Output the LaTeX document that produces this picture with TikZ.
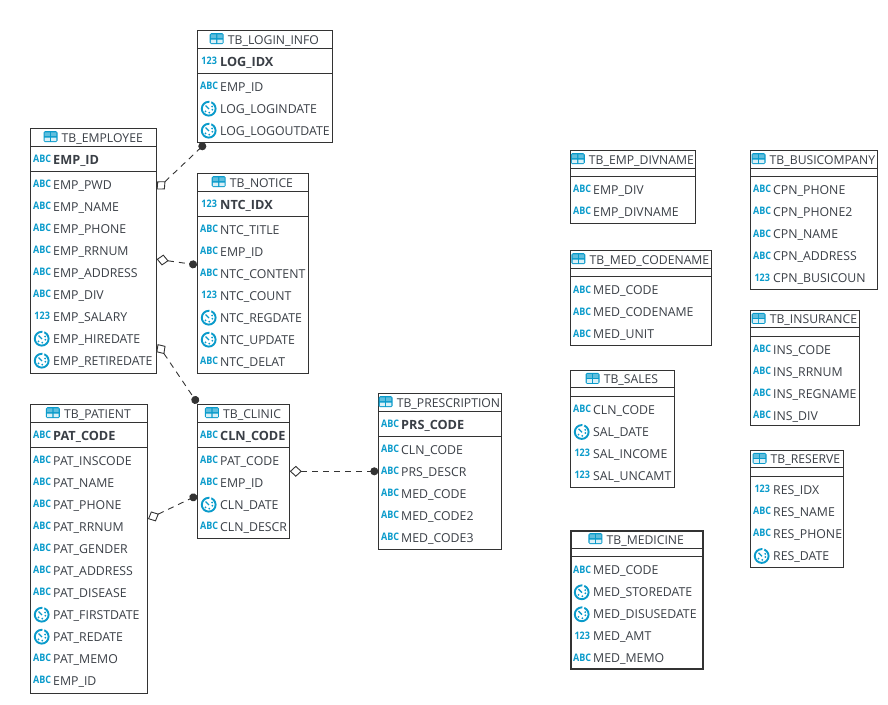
\documentclass[tikz,border=0pt]{standalone}
\usepackage{graphicx}
\usepackage{fontspec}
\setmainfont{Open Sans}
\usetikzlibrary{arrows.meta,positioning,calc}
\definecolor{iconblue}{HTML}{0A9BCB}
\definecolor{inkgrey}{HTML}{3A3F46}
\definecolor{edgegrey}{HTML}{333333}
\tikzset{
    tablebox/.style={draw=edgegrey, line width=1pt, fill=white, inner sep=0pt, outer sep=0pt, anchor=north west},
    tablerule/.style={edgegrey, line width=1pt},
    titletext/.style={text=inkgrey, inner sep=0pt, font=\fontsize{12.2}{14}\selectfont, text height=10.5pt, text depth=1.5pt},
    rowtext/.style={text=inkgrey, inner sep=0pt, anchor=west, font=\fontsize{12.3}{14}\selectfont, text height=10.5pt, text depth=1.5pt},
    keytext/.style={rowtext, font=\fontsize{12.7}{14}\selectfont\bfseries},
    typetext/.style={text=iconblue, inner sep=0pt, yshift=1pt, xshift=0.5pt, font=\fontsize{9}{10}\selectfont\bfseries},
    reflink/.style={edgegrey, line width=0.9pt, dash pattern=on 6pt off 5pt,
        {Diamond[open, length=12pt, width=11pt, fill=white, line width=0.9pt, sep=0pt]}-{Circle[length=8pt, width=8pt, color=edgegrey]}},
    tableicon/.pic={
        \fill[iconblue, rounded corners=1.5pt] (-7,-5.5) rectangle (7,5.5);
        \fill[iconblue!65!white] (-5.8,-4.4) rectangle (-0.6,-0.6) (0.6,-4.4) rectangle (5.8,-0.6);
        \fill[white!85!iconblue] (-5.8,0.8) rectangle (-0.6,4.4) (0.6,0.8) rectangle (5.8,4.4);
    },
    clockicon/.pic={
        \draw[iconblue, line width=1.9pt, dash pattern=on 33pt off 2pt] (0,0) circle (6.9);
        \draw[iconblue, line width=1.3pt] (-3.2,-3.2) -- (0.3,0.3);
        \fill[iconblue] (-3.2,2.6) circle (1) (0.6,3.9) circle (1) (3.7,1) circle (1) (3.5,-2.2) circle (1);
    }
}
\newcommand{\iconabc}[1]{\node[typetext] at (#1) {\scalebox{1}[1.15]{ABC}};}
\newcommand{\iconnum}[1]{\node[typetext] at (#1) {\scalebox{1}[1.15]{123}};}
\newcommand{\icondate}[1]{\pic at (#1) {clockicon};}
% name, left, top, width, height, title, key column, other columns
\newcommand{\erdtable}[8]{
    \node[tablebox, minimum width=#4pt, minimum height=#5pt] (#1) at (#2,#3) {};
    \node[titletext] (#1-title) at ([xshift=8.6pt, yshift=-9pt]#1.north) {#6};
    \pic at ([xshift=-11pt, yshift=1pt]#1-title.west) {tableicon};
    \def\keyrow{#7}
    \ifx\keyrow\empty
        \def\rulegap{25.6}
        \def\rowstart{39.6}
    \else
        \def\rulegap{43}
        \def\rowstart{56}
        \foreach \kind/\label in {#7} {
            \csname icon\kind\endcsname{$(#1.north west)+(11,31)$}
            \node[keytext] (#1-key) at ([xshift=22.3pt, yshift=-31pt]#1.north west) {\label};
        }
    \fi
    \draw[tablerule] ([yshift=-17.5pt]#1.north west) -- ([yshift=-17.5pt]#1.north east);
    \draw[tablerule] ([yshift=-\rulegap pt]#1.north west) -- ([yshift=-\rulegap pt]#1.north east);
    \foreach \kind/\label [count=\n] in {#8} {
        \pgfmathsetmacro{\rowy}{\rowstart+22*(\n-1)}
        \csname icon\kind\endcsname{$(#1.north west)+(11,\rowy)$}
        \node[rowtext] (#1-\n) at ([xshift=22.3pt, yshift=-\rowy pt]#1.north west) {\label};
    }
}
\begin{document}
\begin{tikzpicture}[x=1pt, y=-1pt]
    \useasboundingbox (0,0) rectangle (888,704);
    % connected tables
    \erdtable{login}{197.7}{30.7}{134.3}{111.3}{TB\_LOGIN\_INFO}{num/LOG\_IDX}{abc/EMP\_ID, date/LOG\_LOGINDATE, date/LOG\_LOGOUTDATE}
    \erdtable{employee}{30.7}{128.7}{126}{244.3}{TB\_EMPLOYEE}{abc/EMP\_ID}{abc/EMP\_PWD, abc/EMP\_NAME, abc/EMP\_PHONE, abc/EMP\_RRNUM, abc/EMP\_ADDRESS, abc/EMP\_DIV, num/EMP\_SALARY, date/EMP\_HIREDATE, date/EMP\_RETIREDATE}
    \erdtable{notice}{197.7}{173.7}{110.3}{199.3}{TB\_NOTICE}{num/NTC\_IDX}{abc/NTC\_TITLE, abc/EMP\_ID, abc/NTC\_CONTENT, num/NTC\_COUNT, date/NTC\_REGDATE, date/NTC\_UPDATE, abc/NTC\_DELAT}
    \erdtable{patient}{30.7}{404.7}{116.3}{288.3}{TB\_PATIENT}{abc/PAT\_CODE}{abc/PAT\_INSCODE, abc/PAT\_NAME, abc/PAT\_PHONE, abc/PAT\_RRNUM, abc/PAT\_GENDER, abc/PAT\_ADDRESS, abc/PAT\_DISEASE, date/PAT\_FIRSTDATE, date/PAT\_REDATE, abc/PAT\_MEMO, abc/EMP\_ID}
    \erdtable{clinic}{197.7}{404.7}{91.6}{133.6}{TB\_CLINIC}{abc/CLN\_CODE}{abc/PAT\_CODE, abc/EMP\_ID, date/CLN\_DATE, abc/CLN\_DESCR}
    \erdtable{prescription}{378.7}{393.7}{122.3}{155.3}{TB\_PRESCRIPTION}{abc/PRS\_CODE}{abc/CLN\_CODE, abc/PRS\_DESCR, abc/MED\_CODE, abc/MED\_CODE2, abc/MED\_CODE3}
    % tables without links
    \erdtable{divname}{570.7}{150.7}{124.3}{72.3}{TB\_EMP\_DIVNAME}{}{abc/EMP\_DIV, abc/EMP\_DIVNAME}
    \erdtable{codename}{570.7}{250.7}{140.3}{94.6}{TB\_MED\_CODENAME}{}{abc/MED\_CODE, abc/MED\_CODENAME, abc/MED\_UNIT}
    \erdtable{sales}{570.7}{370.4}{103.3}{116.6}{TB\_SALES}{}{abc/CLN\_CODE, date/SAL\_DATE, num/SAL\_INCOME, num/SAL\_UNCAMT}
    \erdtable{medicine}{570.7}{530.7}{132}{138.3}{TB\_MEDICINE}{}{abc/MED\_CODE, date/MED\_STOREDATE, date/MED\_DISUSEDATE, num/MED\_AMT, abc/MED\_MEMO}
    \draw[edgegrey, line width=2pt] (medicine.north west) rectangle (medicine.south east);
    \erdtable{busicompany}{750.7}{150.7}{126.3}{138.3}{TB\_BUSICOMPANY}{}{abc/CPN\_PHONE, abc/CPN\_PHONE2, abc/CPN\_NAME, abc/CPN\_ADDRESS, num/CPN\_BUSICOUN}
    \erdtable{insurance}{750.7}{310.4}{108.3}{114.6}{TB\_INSURANCE}{}{abc/INS\_CODE, abc/INS\_RRNUM, abc/INS\_REGNAME, abc/INS\_DIV}
    \erdtable{reserve}{750.7}{450.4}{92.3}{116.6}{TB\_RESERVE}{}{num/RES\_IDX, abc/RES\_NAME, abc/RES\_PHONE, date/RES\_DATE}
    % links
    \draw[reflink] ([yshift=-60.8pt]employee.north east) -- ([xshift=7.5pt, yshift=-1.5pt]login.south west);
    \draw[reflink] ([yshift=-130.5pt]employee.north east) -- ([xshift=-0.7pt, yshift=-91.2pt]notice.north west);
    \draw[reflink] ([xshift=0.9pt, yshift=-215.4pt]employee.north east) -- ([xshift=-0.2pt, yshift=1.4pt]clinic.north west);
    \draw[reflink] ([xshift=1pt, yshift=-114.3pt]patient.north east) -- ([xshift=-0.8pt, yshift=-90.9pt]clinic.north west);
    \draw[reflink] ([xshift=0.5pt, yshift=-66.6pt]clinic.north east) -- ([xshift=-0.4pt, yshift=-77.6pt]prescription.north west);
\end{tikzpicture}
\end{document}
